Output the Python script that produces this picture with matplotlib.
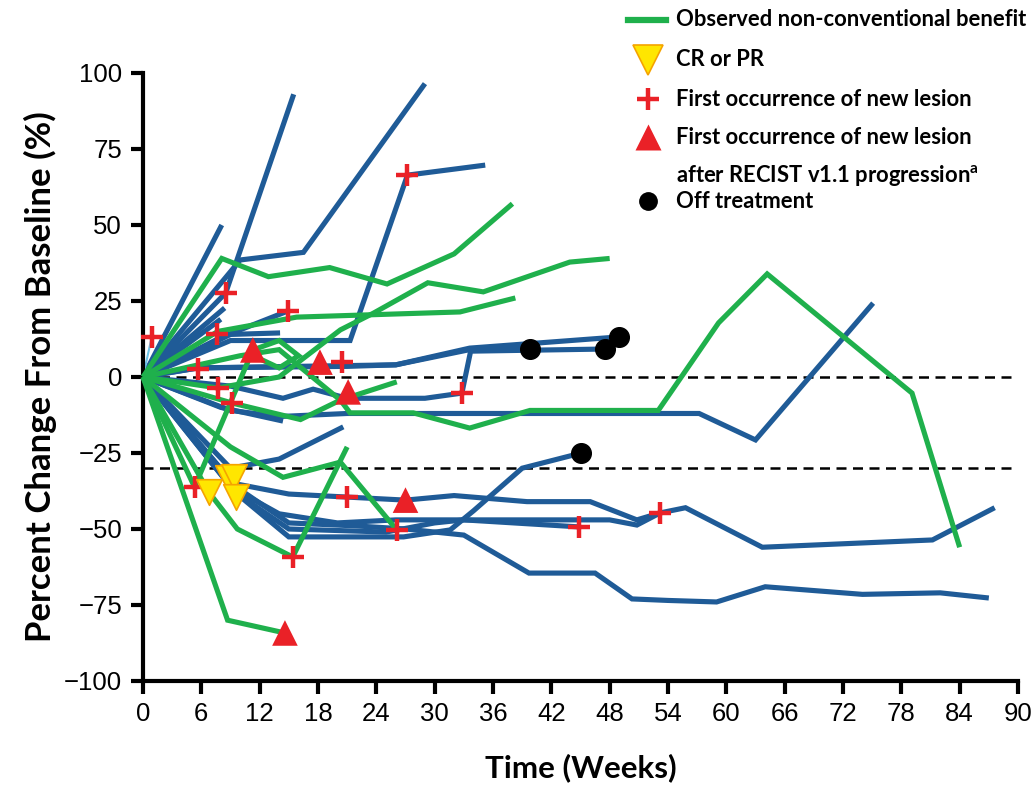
import matplotlib
matplotlib.use("Agg")
import matplotlib.pyplot as plt
from matplotlib.lines import Line2D

# ---------------- data (weeks, % change from baseline) ----------------
blue_weeks = [
    [0, 8.5, 15.5],
    [0, 10, 16.5, 29],
    [0, 8.1],
    [0, 8.4],
    [0, 8.0],
    [0, 8, 14.9],
    [0, 9, 14.1],
    [0, 9, 21.3, 27.2, 35.2],
    [0, 5.7, 21, 26, 33.6, 39.8],
    [0, 9, 14.4, 17.5, 21, 29, 32.8, 33.7, 47.5],
    [0, 5.7, 26, 33.6, 49],
    [0, 9, 14, 21, 57.2, 63, 75.1],
    [0, 8, 14.4],
    [0, 9, 14, 20.6],
    [0, 9.3, 15, 21, 27, 32, 39.5, 46, 50.8, 53.2, 55.8, 63.7, 81.2, 87.6],
    [0, 9.5, 14, 20, 26, 34, 48, 50.8, 53.2],
    [0, 9.5, 15, 25, 30, 33, 44.8],
    [0, 9.5, 15, 22, 27, 33, 39.7, 46.5, 50.3, 54, 59, 64, 74, 82, 87],
    [0, 9.5, 15, 26.8, 31.6, 34, 39, 45.1],
]
blue_pct = [
    [0, 27.6, 93],
    [0, 38.5, 41, 96.5],
    [0, 50],
    [0, 22.7],
    [0, 19],
    [0, 13, 21.7],
    [0, 14, 14.5],
    [0, 12, 12, 66.4, 69.7],
    [0, 3, 3.5, 4, 9, 9.5],
    [0, -3, -7, -4, -7, -7, -5.3, 8.5, 9.2],
    [0, 3, 4, 9.5, 13.2],
    [0, -11, -13, -12, -12, -20.7, 24.3],
    [0, -10, -14.5],
    [0, -30, -27, -16.4],
    [0, -35, -38.5, -39.5, -40.5, -39, -41, -41, -47, -44.7, -43, -56, -53.6, -43],
    [0, -37, -45, -48, -47, -47, -47, -48.7, -44.7],
    [0, -38, -50, -51, -48, -47, -49.3],
    [0, -36, -48, -49, -50, -52, -64.5, -64.5, -73, -73.5, -74, -69, -71.5, -71, -72.7],
    [0, -38, -52.6, -52.6, -50.3, -44, -30, -25],
]
cyan_weeks = [0, 0.9]
cyan_pct = [0, 13.2]

green_weeks = [
    [0, 8.1, 12.9, 19.2, 25.1, 32, 38],
    [0, 7.7, 14, 20.3, 23.7, 29.3, 35, 43.9, 48],
    [0, 7.7, 15.8, 32.6, 38.3],
    [0, 10, 14, 20.3, 21.3, 27.8, 33.6, 39.8, 53, 59.2, 64.2, 79.1, 84],
    [0, 9.2, 16.2, 20.3, 26.1],
    [0, 5.3, 11.3, 14, 16, 14, 12],
    [0, 8.7, 14.6],
    [0, 6.8, 9.7, 15.4, 21],
    [0, 9, 14.4, 20.3, 26.1],
]
green_pct = [
    [0, 39, 33, 36, 30.6, 40.5, 57],
    [0, -3.6, 0, 15.5, 21, 31, 28, 37.8, 39],
    [0, 15, 19.7, 21.4, 26],
    [0, 7, 9, -7.6, -11.8, -11.8, -16.8, -11, -11, 17.8, 33.9, -5.3, -56],
    [0, -8.6, -14, -7.6, -1.6],
    [0, -36.2, 8.9, 12, 7, 3, 6],
    [0, -80, -84.2],
    [0, -38, -50, -59.2, -23],
    [0, -23, -33, -28, -50.3],
]

plus_weeks = [0.9, 8.5, 7.6, 14.9, 5.7, 7.7, 9.2, 20.5, 27.2, 32.8, 5.3, 15.4, 21, 26.1, 44.8, 53.2]
plus_pct = [13.2, 27.6, 14, 21.7, 2.6, -3.6, -8.6, 4.9, 66.4, -5.3, -36.2, -59.2, -39.5, -50.3, -49.3, -44.7]

tri_weeks = [11.3, 18.2, 21.1, 27, 14.6]
tri_pct = [8.9, 4.9, -4.9, -40.5, -84.2]

resp_weeks = [6.8, 8.7, 9.4, 9.6]
resp_pct = [-37.8, -33.2, -32.9, -39.5]

off_weeks = [39.8, 47.5, 49, 45.1]
off_pct = [9.2, 9.2, 13.2, -25]

ref_levels = [0, -30]
x_ticks = list(range(0, 91, 6))
y_ticks = [-100, -75, -50, -25, 0, 25, 50, 75, 100]

legend_labels = [
    "Observed non-conventional benefit",
    "CR or PR",
    "First occurrence of new lesion",
    "First occurrence of new lesion",
    "after RECIST v1.1 progression$^{\\mathbf{a}}$",
    "Off treatment",
]

# ---------------- style ----------------
BLUE = "#1f5b97"
GREEN = "#1fb04c"
RED = "#ea2127"
YELLOW = "#ffe600"
YEDGE = "#f5a300"
LW = 3.7

plt.rcParams["mathtext.fontset"] = "custom"
plt.rcParams["mathtext.bf"] = "Lato:bold"
plt.rcParams["mathtext.rm"] = "Lato:bold"

fig = plt.figure(figsize=(10.34, 8.0), dpi=100)
ax = fig.add_axes([143 / 1034, 1 - 681 / 800, (1018 - 143) / 1034, (681 - 73) / 800])

for w, v in zip(blue_weeks, blue_pct):
    ax.plot(w, v, color=BLUE, lw=LW, solid_capstyle="butt", solid_joinstyle="miter", zorder=2, clip_on=False)
ax.plot(cyan_weeks, cyan_pct, color="#6cc3e8", lw=1.5, zorder=2)
for w, v in zip(green_weeks, green_pct):
    ax.plot(w, v, color=GREEN, lw=LW, solid_capstyle="butt", solid_joinstyle="miter", zorder=3, clip_on=False)

for lv in ref_levels:
    ax.axhline(lv, color="black", lw=1.8, ls=(0, (4, 2.6)), zorder=1.5)

ax.scatter(plus_weeks, plus_pct, marker="+", s=230, linewidths=3.2, color=RED, zorder=5, clip_on=False)
ax.scatter(tri_weeks, tri_pct, marker="^", s=340, color=RED, edgecolors="none", zorder=5, clip_on=False)
ax.scatter(resp_weeks, resp_pct, marker="v", s=340, color=YELLOW, edgecolors=YEDGE, linewidths=1.2, zorder=6, clip_on=False)
ax.scatter(off_weeks, off_pct, marker="o", s=200, color="black", zorder=6, clip_on=False)

ax.set_xlim(0, 90)
ax.set_ylim(-100, 100)
ax.set_xticks(x_ticks)
ax.set_yticks(y_ticks)
ax.set_yticklabels([f"\u2212{abs(t)}" if t < 0 else str(t) for t in y_ticks])
for s in ["top", "right"]:
    ax.spines[s].set_visible(False)
for s in ["left", "bottom"]:
    ax.spines[s].set_linewidth(3)
ax.tick_params(axis="both", direction="out", width=3, length=9, labelsize=18.5, pad=6)
for lab in ax.get_xticklabels() + ax.get_yticklabels():
    lab.set_family("Liberation Sans")
ax.set_xlabel("Time (Weeks)", fontsize=22.5, fontweight="bold", family="Lato", labelpad=20)
ax.set_ylabel("Percent Change From Baseline (%)", fontsize=25, fontweight="bold", family="Lato", labelpad=5)

# ---------------- legend (figure coords) ----------------
def fx(px):
    return px / 1034
def fy(py):
    return 1 - py / 800

handle_x = 648
text_x = 676
rows = [20, 60, 99, 137, 175, 201]
fig.add_artist(Line2D([fx(628), fx(666)], [fy(rows[0])] * 2, color=GREEN, lw=4.5, transform=fig.transFigure))
fig.add_artist(Line2D([fx(handle_x)], [fy(rows[1])], marker="v", ms=22, color=YELLOW, mec=YEDGE, mew=1.2, transform=fig.transFigure))
fig.add_artist(Line2D([fx(handle_x)], [fy(rows[2])], marker="+", ms=16, mew=3.2, color=RED, transform=fig.transFigure))
fig.add_artist(Line2D([fx(handle_x)], [fy(rows[3])], marker="^", ms=19, color=RED, mec="none", transform=fig.transFigure))
fig.add_artist(Line2D([fx(handle_x)], [fy(rows[5])], marker="o", ms=12.5, color="black", transform=fig.transFigure))
for lab, r in zip(legend_labels, rows):
    fig.text(fx(text_x), fy(r), lab, fontsize=15.8, fontweight="bold", family="Lato", va="center", ha="left")

fig.savefig("out.png", dpi=100)
